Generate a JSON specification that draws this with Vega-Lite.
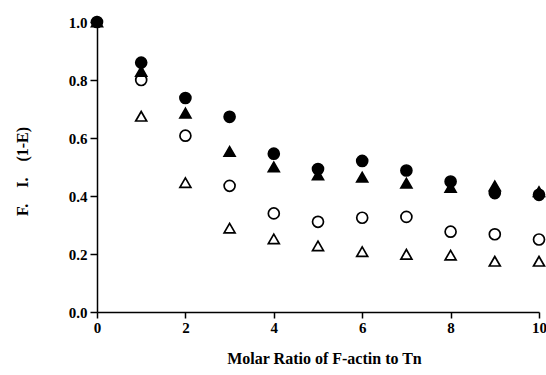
{
  "$schema": "https://vega.github.io/schema/vega-lite/v6.json",
  "autosize": "none",
  "width": 442,
  "height": 290,
  "padding": {"left": 97, "top": 22, "right": 7, "bottom": 63},
  "background": "white",
  "config": {"view": {"stroke": null}},
  "data": {"values": [
    {"ratio": 0, "fi": 1.0, "series": "A"},
    {"ratio": 1, "fi": 0.86, "series": "A"},
    {"ratio": 2, "fi": 0.738, "series": "A"},
    {"ratio": 3, "fi": 0.673, "series": "A"},
    {"ratio": 4, "fi": 0.546, "series": "A"},
    {"ratio": 5, "fi": 0.493, "series": "A"},
    {"ratio": 6, "fi": 0.521, "series": "A"},
    {"ratio": 7, "fi": 0.488, "series": "A"},
    {"ratio": 8, "fi": 0.45, "series": "A"},
    {"ratio": 9, "fi": 0.41, "series": "A"},
    {"ratio": 10, "fi": 0.404, "series": "A"},
    {"ratio": 0, "fi": 1.0, "series": "B"},
    {"ratio": 1, "fi": 0.83, "series": "B"},
    {"ratio": 2, "fi": 0.686, "series": "B"},
    {"ratio": 3, "fi": 0.554, "series": "B"},
    {"ratio": 4, "fi": 0.5, "series": "B"},
    {"ratio": 5, "fi": 0.473, "series": "B"},
    {"ratio": 6, "fi": 0.465, "series": "B"},
    {"ratio": 7, "fi": 0.444, "series": "B"},
    {"ratio": 8, "fi": 0.43, "series": "B"},
    {"ratio": 9, "fi": 0.435, "series": "B"},
    {"ratio": 10, "fi": 0.415, "series": "B"},
    {"ratio": 1, "fi": 0.8, "series": "C"},
    {"ratio": 2, "fi": 0.608, "series": "C"},
    {"ratio": 3, "fi": 0.435, "series": "C"},
    {"ratio": 4, "fi": 0.34, "series": "C"},
    {"ratio": 5, "fi": 0.311, "series": "C"},
    {"ratio": 6, "fi": 0.325, "series": "C"},
    {"ratio": 7, "fi": 0.328, "series": "C"},
    {"ratio": 8, "fi": 0.277, "series": "C"},
    {"ratio": 9, "fi": 0.268, "series": "C"},
    {"ratio": 10, "fi": 0.25, "series": "C"},
    {"ratio": 1, "fi": 0.675, "series": "D"},
    {"ratio": 2, "fi": 0.446, "series": "D"},
    {"ratio": 3, "fi": 0.289, "series": "D"},
    {"ratio": 4, "fi": 0.252, "series": "D"},
    {"ratio": 5, "fi": 0.228, "series": "D"},
    {"ratio": 6, "fi": 0.208, "series": "D"},
    {"ratio": 7, "fi": 0.199, "series": "D"},
    {"ratio": 8, "fi": 0.196, "series": "D"},
    {"ratio": 9, "fi": 0.175, "series": "D"},
    {"ratio": 10, "fi": 0.175, "series": "D"}
  ]},
  "mark": {"type": "point", "filled": true, "size": 120, "stroke": "black", "strokeWidth": 1.7, "opacity": 1, "clip": false},
  "encoding": {
    "x": {"field": "ratio", "type": "quantitative",
      "scale": {"domain": [0, 10], "nice": false, "zero": false},
      "axis": {"values": [0, 2, 4, 6, 8, 10], "format": "d", "grid": false,
        "domainColor": "black", "domainWidth": 1.5, "tickColor": "black", "tickWidth": 1.5, "tickSize": 6,
        "labelFont": "Liberation Serif", "labelFontWeight": "bold", "labelFontSize": 15, "labelColor": "black",
        "labelPadding": 2, "labelFlush": false, "labelOverlap": false,
        "title": "Molar Ratio of F-actin to Tn", "titleFont": "Liberation Serif", "titleFontWeight": "bold",
        "titleFontSize": 16, "titleColor": "black", "titlePadding": 15, "titleX": 227}},
    "y": {"field": "fi", "type": "quantitative",
      "scale": {"domain": [0, 1], "nice": false},
      "axis": {"values": [0, 0.2, 0.4, 0.6, 0.8, 1.0], "format": ".1f", "grid": false,
        "domainColor": "black", "domainWidth": 1.5, "tickColor": "black", "tickWidth": 1.5, "tickSize": 7,
        "labelFont": "Liberation Serif", "labelFontWeight": "bold", "labelFontSize": 15, "labelColor": "black",
        "labelPadding": 3, "labelFlush": false, "labelOverlap": false,
        "title": "F.\u00a0\u00a0\u00a0 I.\u00a0\u00a0\u00a0 (1-E)", "titleFont": "Liberation Serif", "titleFontWeight": "bold",
        "titleFontSize": 16, "titleColor": "black", "titlePadding": 38, "titleY": 149}},
    "shape": {"field": "series", "type": "nominal",
      "scale": {"domain": ["A", "B", "C", "D"], "range": ["circle", "triangle-up", "circle", "triangle-up"]}, "legend": null},
    "fill": {"field": "series", "type": "nominal",
      "scale": {"domain": ["A", "B", "C", "D"], "range": ["black", "black", "white", "white"]}, "legend": null},
    "order": {"field": "series", "sort": "descending"}
  }
}
